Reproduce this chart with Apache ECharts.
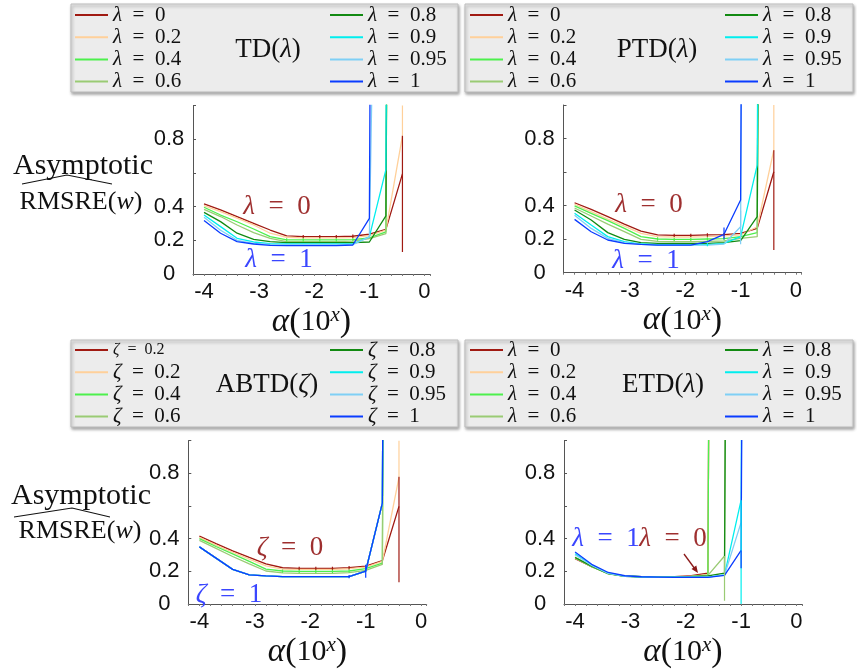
<!DOCTYPE html>
<html>
<head>
<meta charset="utf-8">
<script src="https://cdn.jsdelivr.net/npm/echarts@6/dist/echarts.min.js"></script>
<style>
  html, body { margin: 0; padding: 0; background: #ffffff; }
  #chart { width: 857px; height: 670px; }
</style>
</head>
<body>
<div id="chart"></div>
<script>
// Step-size exponents: alpha = 10^x, doubling from 1e-4
const alphaExp = [-4, -3.7, -3.4, -3.1, -2.8, -2.5, -2.2, -1.9, -1.6, -1.3, -1.0, -0.7, -0.4];

const lambdaNames = ['λ = 0', 'λ = 0.2', 'λ = 0.4', 'λ = 0.6', 'λ = 0.8', 'λ = 0.9', 'λ = 0.95', 'λ = 1'];
const zetaNames = ['ζ = 0', 'ζ = 0.2', 'ζ = 0.4', 'ζ = 0.6', 'ζ = 0.8', 'ζ = 0.9', 'ζ = 0.95', 'ζ = 1'];
const zetaLegendText = ['ζ = 0.2', 'ζ = 0.2', 'ζ = 0.4', 'ζ = 0.6', 'ζ = 0.8', 'ζ = 0.9', 'ζ = 0.95', 'ζ = 1'];
const lineColors = ['#a01a12', '#ffd09a', '#4df04d', '#9acb74', '#128a12', '#00eeee', '#7fcff5', '#0a3cff'];

const xTickLabels = [-4, -3, -2, -1, 0];
const yTickLabels = [0, 0.2, 0.4, 0.8];

// Asymptotic RMSRE per step size (values above 1 diverge off the plot)
const tdValues = [
  [0.416, 0.380, 0.341, 0.301, 0.261, 0.226, 0.222, 0.222, 0.222, 0.224, 0.236, 0.265, 0.594],
  [0.406, 0.370, 0.331, 0.291, 0.242, 0.218, 0.214, 0.214, 0.214, 0.216, 0.228, 0.260, 0.820],
  [0.396, 0.350, 0.310, 0.267, 0.222, 0.202, 0.202, 0.202, 0.202, 0.204, 0.215, 0.250, 20],
  [0.384, 0.341, 0.291, 0.246, 0.212, 0.192, 0.192, 0.192, 0.192, 0.195, 0.210, 0.240, 20],
  [0.366, 0.311, 0.242, 0.206, 0.192, 0.186, 0.186, 0.186, 0.186, 0.186, 0.190, 0.345, 20],
  [0.350, 0.281, 0.212, 0.190, 0.180, 0.178, 0.178, 0.178, 0.178, 0.178, 0.220, 0.620, 20],
  [0.337, 0.260, 0.200, 0.182, 0.176, 0.174, 0.174, 0.174, 0.174, 0.174, 0.220, 6, null],
  [0.317, 0.242, 0.192, 0.178, 0.170, 0.168, 0.168, 0.168, 0.168, 0.172, 0.330, 20, null]
];
const ptdValues = [
  [0.417, 0.378, 0.334, 0.290, 0.248, 0.225, 0.223, 0.223, 0.225, 0.227, 0.235, 0.264, 0.602],
  [0.408, 0.364, 0.320, 0.278, 0.235, 0.215, 0.213, 0.213, 0.215, 0.219, 0.225, 0.274, 0.732],
  [0.398, 0.354, 0.310, 0.264, 0.215, 0.201, 0.199, 0.199, 0.201, 0.203, 0.215, 0.239, 20],
  [0.386, 0.338, 0.290, 0.245, 0.199, 0.187, 0.185, 0.185, 0.187, 0.189, 0.205, 0.215, 20],
  [0.374, 0.314, 0.239, 0.199, 0.179, 0.175, 0.175, 0.175, 0.175, 0.179, 0.191, 0.334, 20],
  [0.354, 0.284, 0.215, 0.185, 0.171, 0.167, 0.167, 0.167, 0.167, 0.175, 0.215, 0.642, 20],
  [0.342, 0.264, 0.205, 0.179, 0.169, 0.165, 0.165, 0.165, 0.165, 0.171, 0.274, 20, null],
  [0.318, 0.244, 0.195, 0.175, 0.169, 0.165, 0.165, 0.165, 0.185, 0.229, 0.433, 20, null]
];
const abtdValues = [
  [0.416, 0.370, 0.325, 0.285, 0.246, 0.222, 0.218, 0.218, 0.218, 0.222, 0.232, 0.265, 0.598],
  [0.408, 0.360, 0.317, 0.275, 0.234, 0.214, 0.212, 0.212, 0.212, 0.216, 0.226, 0.261, 0.776],
  [0.400, 0.352, 0.307, 0.261, 0.214, 0.202, 0.200, 0.200, 0.200, 0.202, 0.216, 0.250, 20],
  [0.390, 0.341, 0.291, 0.246, 0.202, 0.190, 0.188, 0.188, 0.188, 0.192, 0.206, 0.242, 20],
  [0.350, 0.281, 0.212, 0.178, 0.172, 0.168, 0.168, 0.168, 0.168, 0.168, 0.202, 0.618, 20],
  [0.350, 0.281, 0.212, 0.178, 0.172, 0.168, 0.168, 0.168, 0.168, 0.168, 0.202, 0.618, 20],
  [0.350, 0.281, 0.212, 0.178, 0.172, 0.168, 0.168, 0.168, 0.168, 0.168, 0.202, 0.618, 20],
  [0.350, 0.281, 0.212, 0.178, 0.172, 0.168, 0.168, 0.168, 0.168, 0.168, 0.202, 0.618, 20]
];
const etdValues = [
  [0.278, 0.229, 0.187, 0.171, 0.167, 0.167, 0.167, 0.173, 0.189, 20, null, null, null],
  [0.281, 0.230, 0.188, 0.171, 0.167, 0.167, 0.167, 0.170, 0.180, 20, null, null, null],
  [0.283, 0.229, 0.186, 0.171, 0.167, 0.167, 0.167, 0.169, 0.177, 20, null, null, null],
  [0.288, 0.229, 0.185, 0.169, 0.167, 0.167, 0.167, 0.169, 0.175, 0.294, 20, null, null],
  [0.285, 0.232, 0.186, 0.170, 0.167, 0.167, 0.167, 0.168, 0.172, 0.189, 20, null, null],
  [0.308, 0.239, 0.189, 0.171, 0.167, 0.165, 0.165, 0.165, 0.165, 0.179, 0.636, 20, null],
  [0.302, 0.236, 0.188, 0.170, 0.166, 0.165, 0.165, 0.165, 0.165, 0.178, 0.500, 20, null],
  [0.318, 0.243, 0.193, 0.173, 0.167, 0.165, 0.163, 0.163, 0.163, 0.175, 0.328, 20, null]
];

// Error bars: [series index, point index, low, high]
const tdErrors = [
  [0, 6, 0.212, 0.232], [0, 7, 0.212, 0.232], [0, 8, 0.212, 0.232], [0, 9, 0.214, 0.234],
  [2, 5, 0.192, 0.212], [2, 6, 0.192, 0.212], [2, 7, 0.192, 0.212], [2, 8, 0.192, 0.212], [2, 9, 0.194, 0.214],
  [1, 12, 0.82, 1.1], [0, 12, 0.13, 0.82]
];
const ptdErrors = [
  [0, 6, 0.213, 0.233], [0, 7, 0.213, 0.233], [0, 8, 0.215, 0.235], [0, 9, 0.217, 0.237],
  [2, 5, 0.191, 0.211], [2, 6, 0.189, 0.209], [2, 7, 0.189, 0.209], [2, 8, 0.191, 0.211], [2, 9, 0.193, 0.213],
  [5, 8, 0.157, 0.177], [6, 10, 0.17, 0.37], [7, 9, 0.2, 0.27],
  [1, 12, 0.73, 1.1], [0, 12, 0.135, 0.73]
];
const abtdErrors = [
  [0, 6, 0.208, 0.228], [0, 7, 0.208, 0.228], [0, 8, 0.208, 0.228], [0, 9, 0.212, 0.232],
  [2, 5, 0.192, 0.212], [2, 6, 0.190, 0.210], [2, 7, 0.190, 0.210], [2, 8, 0.190, 0.210], [2, 9, 0.192, 0.212],
  [7, 9, 0.158, 0.178], [7, 10, 0.16, 0.24],
  [1, 12, 0.78, 1.1], [0, 12, 0.133, 0.78]
];
const etdErrors = [
  [3, 9, 0.02, 0.294], [5, 10, 0.0, 0.636], [7, 10, 0.219, 0.328]
];

const serif = 'Liberation Serif';
const sans = 'Liberation Sans';

// "λ = 0" -> rich text with an italic Greek symbol and math-like spacing
function mathLabel(text, small) {
  const parts = text.split(' = ');
  const g = small ? 'gs' : 'g', t = small ? 'ts' : 't';
  return '{' + g + '|' + parts[0] + '}{' + t + '|\u2002=\u2002' + parts[1] + '}';
}
function mathRich(size, color) {
  return {
    g: { fontFamily: serif, fontStyle: 'italic', fontSize: size, color: color, fill: color },
    t: { fontFamily: serif, fontSize: size, color: color, fill: color },
    gs: { fontFamily: serif, fontStyle: 'italic', fontSize: Math.round(size * 0.78), color: color, fill: color },
    ts: { fontFamily: serif, fontSize: Math.round(size * 0.78), color: color, fill: color }
  };
}

const panels = [
  { values: tdValues, names: lambdaNames, errors: tdErrors,
    grid: { left: 193, top: 105.5, width: 237, height: 168.5 } },
  { values: ptdValues, names: lambdaNames, errors: ptdErrors,
    grid: { left: 563.5, top: 105, width: 238, height: 167.7 } },
  { values: abtdValues, names: zetaNames, errors: abtdErrors,
    grid: { left: 188.3, top: 440.7, width: 238.4, height: 168.3 } },
  { values: etdValues, names: lambdaNames, errors: etdErrors,
    grid: { left: 564, top: 440.7, width: 238, height: 167.6 } }
];

const xName = '{i|α}{p|(}{n|10}{s|x}{p|)}';
const xNameStyle = {
  color: '#111',
  rich: {
    i: { fontFamily: serif, fontStyle: 'italic', fontSize: 33, color: '#111' },
    p: { fontFamily: serif, fontSize: 34, color: '#111' },
    n: { fontFamily: serif, fontSize: 30, color: '#111' },
    s: { fontFamily: serif, fontStyle: 'italic', fontSize: 21, verticalAlign: 'top', color: '#111' }
  }
};

const grids = [], xAxes = [], yAxes = [], series = [];
panels.forEach((p, pi) => {
  grids.push(Object.assign({ containLabel: false }, p.grid));
  xAxes.push({
    type: 'value', gridIndex: pi, min: -4.2, max: 0.1, interval: 0.2,
    axisLine: { onZero: false, lineStyle: { color: '#555', width: 1 } },
    axisTick: { show: true, length: 2, lineStyle: { color: '#777' } },
    splitLine: { show: false },
    axisLabel: {
      margin: 7, color: '#111', fontFamily: sans, fontSize: 22,
      formatter: v => {
        const r = Math.round(v);
        return (Math.abs(v - r) < 1e-6 && xTickLabels.includes(r)) ? String(r) : '';
      }
    },
    name: xName, nameLocation: 'middle', nameGap: 31, nameTextStyle: xNameStyle
  });
  yAxes.push({
    type: 'value', gridIndex: pi, min: 0, max: 1, interval: 0.2,
    axisLine: { show: true, onZero: false, lineStyle: { color: '#555', width: 1 } },
    axisTick: { show: true, inside: true, length: 3, lineStyle: { color: '#555' } },
    splitLine: { show: false },
    axisLabel: {
      margin: 24, align: 'center', color: '#111', fontFamily: sans, fontSize: 22,
      formatter: v => {
        const hit = yTickLabels.find(t => Math.abs(t - v) < 1e-6);
        return hit === undefined ? '' : String(hit);
      }
    }
  });
  p.values.forEach((vals, si) => {
    series.push({
      type: 'line', name: p.names[si], xAxisIndex: pi, yAxisIndex: pi,
      data: alphaExp.map((x, k) => [x, vals[k]]),
      symbol: 'none', showSymbol: false, clip: true, silent: true,
      color: lineColors[si],
      itemStyle: { color: lineColors[si] },
      lineStyle: { color: lineColors[si], width: 1.3 },
      z: 2
    });
  });
  series.push({
    type: 'custom', xAxisIndex: pi, yAxisIndex: pi, clip: true, silent: true, z: 3,
    data: p.errors.map(e => [alphaExp[e[1]], e[2], e[3], e[0]]),
    encode: { x: 0, y: [1, 2] },
    renderItem: (params, api) => {
      const x = api.value(0);
      const a = api.coord([x, api.value(1)]);
      const b = api.coord([x, api.value(2)]);
      return {
        type: 'line',
        shape: { x1: a[0], y1: a[1], x2: b[0], y2: b[1] },
        style: { stroke: lineColors[api.value(3)], lineWidth: 1.2 }
      };
    }
  });
});

const legendRich = mathRich(21, '#111');
function legendColumn(names, left, top, formatter) {
  return {
    orient: 'vertical', left: left, top: top, padding: 0, itemGap: 0.2,
    itemWidth: 33, itemHeight: 2, icon: 'rect', selectedMode: false, z: 10,
    data: names,
    formatter: formatter,
    textStyle: { fontFamily: serif, fontSize: 21, lineHeight: 22, color: '#111', rich: legendRich }
  };
}
const lambdaFmt = n => mathLabel(n, false);
const zetaFmt = n => mathLabel(zetaLegendText[zetaNames.indexOf(n)], n === zetaNames[0]);

const legends = [
  legendColumn(lambdaNames.slice(0, 4), 75, 4, lambdaFmt),
  legendColumn(lambdaNames.slice(4), 330, 4, lambdaFmt),
  legendColumn(lambdaNames.slice(0, 4), 470, 4, lambdaFmt),
  legendColumn(lambdaNames.slice(4), 725, 4, lambdaFmt),
  legendColumn(zetaNames.slice(0, 4), 75, 339, zetaFmt),
  legendColumn(zetaNames.slice(4), 330, 339, zetaFmt),
  legendColumn(lambdaNames.slice(0, 4), 470, 339, lambdaFmt),
  legendColumn(lambdaNames.slice(4), 725, 339, lambdaFmt)
];

function box(x, y, w, h) {
  return {
    type: 'rect', z: 1, silent: true,
    shape: { x: x, y: y, width: w, height: h },
    style: { fill: '#ececec', stroke: '#bdbdbd', lineWidth: 1,
             shadowColor: 'rgba(0,0,0,0.35)', shadowBlur: 3, shadowOffsetX: 1, shadowOffsetY: 2 }
  };
}
function label(text, x, y, size, color, rich) {
  const style = { text: text, fill: color, font: size + 'px "' + serif + '"',
                  align: 'center', verticalAlign: 'middle',
                  textAlign: 'center', textVerticalAlign: 'middle' };
  if (rich) style.rich = rich;
  return { type: 'text', x: x, y: y, z: 12, silent: true, style: style };
}
function hat(points) {
  return { type: 'polyline', z: 12, silent: true,
           shape: { points: points }, style: { stroke: '#111', lineWidth: 1.1, fill: null } };
}
function titleRich(size) {
  return {
    n: { fontFamily: serif, fontSize: size, fill: '#111', color: '#111' },
    g: { fontFamily: serif, fontStyle: 'italic', fontSize: size, fill: '#111', color: '#111' }
  };
}
const rmsreRich = {
  n: { fontFamily: serif, fontSize: 26, fill: '#111', color: '#111' },
  w: { fontFamily: serif, fontSize: 26, fontStyle: 'italic', fill: '#111', color: '#111' }
};
const darkRed = '#9e2f2f';
const brightBlue = '#3a46ff';
const redRich = mathRich(27, darkRed);
const blueRich = mathRich(27, brightBlue);

const graphics = [
  box(71, 4, 387, 88), box(465, 4, 388, 88), box(71, 340, 387, 87), box(465, 340, 388, 87),
  label('{n|TD(}{g|λ}{n|)}', 268, 50, 27, '#111', titleRich(27)),
  label('{n|PTD(}{g|λ}{n|)}', 657, 50, 27, '#111', titleRich(27)),
  label('{n|ABTD(}{g|ζ}{n|)}', 267, 385, 27, '#111', titleRich(27)),
  label('{n|ETD(}{g|λ}{n|)}', 663, 385, 27, '#111', titleRich(27)),
  label('Asymptotic', 83, 166, 30, '#111'),
  label('{n|RMSRE(}{w|w}{n|)}', 81, 202, 26, '#111', rmsreRich),
  hat([[22, 184], [67, 175], [112, 184]]),
  label('Asymptotic', 81, 496, 30, '#111'),
  label('{n|RMSRE(}{w|w}{n|)}', 80, 531, 26, '#111', rmsreRich),
  hat([[14, 517], [72, 508], [110, 517]]),
  label(mathLabel('λ = 0'), 277, 207, 27, darkRed, redRich),
  label(mathLabel('λ = 1'), 279, 260, 27, brightBlue, blueRich),
  label(mathLabel('λ = 0'), 649, 205, 27, darkRed, redRich),
  label(mathLabel('λ = 1'), 646, 261, 27, brightBlue, blueRich),
  label(mathLabel('ζ = 0'), 290, 548, 27, darkRed, redRich),
  label(mathLabel('ζ = 1'), 229, 595, 27, brightBlue, blueRich),
  label(mathLabel('λ = 1'), 606, 539, 27, brightBlue, blueRich),
  label(mathLabel('λ = 0'), 673, 539, 27, darkRed, redRich),
  { type: 'line', z: 12, silent: true, shape: { x1: 684, y1: 554, x2: 695, y2: 569 },
    style: { stroke: '#8b1a1a', lineWidth: 1.3 } },
  { type: 'polygon', z: 12, silent: true,
    shape: { points: [[698, 573], [691.5, 569.1], [696.3, 565.5]] },
    style: { fill: '#8b1a1a' } }
];

const chart = echarts.init(document.getElementById('chart'), null, { renderer: 'canvas' });
chart.setOption({
  animation: false,
  backgroundColor: '#ffffff',
  grid: grids,
  xAxis: xAxes,
  yAxis: yAxes,
  legend: legends,
  series: series,
  graphic: graphics
});
</script>
</body>
</html>
